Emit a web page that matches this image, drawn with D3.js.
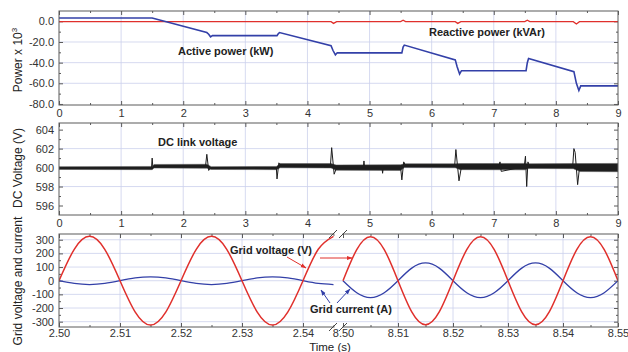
<!DOCTYPE html>
<html>
<head>
<meta charset="utf-8">
<script src="https://cdn.jsdelivr.net/npm/d3@7"></script>
<style>
  body { margin: 0; background: #fff; }
  text { font-family: "Liberation Sans", Arial, sans-serif; }
</style>
</head>
<body>
<div id="chart"></div>
<script>
// ---- panel 1 : power (x10^3) ----
const activeT = [0, 1.50, 2.38, 2.41, 2.44, 2.47, 3.51, 3.53, 3.55, 4.38, 4.41, 4.45, 4.48, 5.52, 5.54, 5.56, 6.38, 6.41, 6.45, 6.48, 7.52, 7.54, 7.56, 8.29, 8.33, 8.37, 8.40, 9.0];
const activeP = [3.2, 3.2, -10.9, -12.5, -15, -13.8, -13.8, -12, -10.9, -23.5, -28, -32.5, -30.5, -30.5, -25, -23, -37.3, -44, -51, -47.8, -47.8, -40, -36, -48.7, -60, -67, -62.5, -62.5];
const reactT = [0, 4.38, 4.42, 4.47, 5.50, 5.54, 5.58, 6.38, 6.42, 6.47, 7.50, 7.54, 7.58, 8.28, 8.33, 8.38, 9.0];
const reactQ = [-0.3, -0.3, -2.0, -0.3, -0.3, 1.0, -0.3, -0.3, -2.0, -0.3, -0.3, 1.0, -0.3, -0.3, -2.5, -0.3, -0.3];
const powerTicks = [0, -20, -40, -60, -80];

// ---- panel 2 : DC link voltage ----
const dcBandT  = [0, 1.50, 1.53, 2.38, 2.45, 3.50, 3.56, 4.38, 4.46, 5.50, 5.56, 6.38, 6.46, 7.50, 7.56, 8.28, 8.39, 9.0];
const dcBandHi = [600.10, 600.12, 600.33, 600.35, 600.10, 600.12, 600.42, 600.42, 600.28, 600.30, 600.40, 600.40, 600.42, 600.44, 600.40, 600.42, 600.42, 600.44];
const dcBandLo = [599.80, 599.78, 599.95, 599.93, 599.80, 599.78, 599.98, 599.96, 599.72, 599.70, 600.00, 599.98, 599.78, 599.76, 599.90, 599.88, 599.58, 599.56];
const dcSpikeT = [1.49, 1.50, 1.51, 2.36, 2.38, 2.41, 2.44, 3.50, 3.51, 3.54, 3.57, 4.37, 4.39, 4.43, 4.47, 4.90, 4.91, 4.92, 5.20, 5.21, 5.22, 5.50, 5.52, 5.55, 5.58, 6.37, 6.39, 6.44, 6.48, 7.08, 7.10, 7.12, 7.49, 7.51, 7.53, 7.55, 7.58, 8.27, 8.29, 8.31, 8.35, 8.38];
const dcSpikeV = [600.0, 601.0, 600.1, 600.2, 601.4, 599.7, 600.0, 599.9, 598.8, 600.5, 600.2, 600.2, 602.1, 599.3, 600.0, 600.0, 600.7, 600.0, 600.0, 599.4, 600.0, 600.0, 598.7, 600.6, 600.2, 600.2, 601.9, 598.6, 600.1, 600.1, 600.6, 599.6, 600.1, 601.2, 598.0, 600.6, 600.1, 600.1, 602.0, 601.6, 598.2, 600.0];
const dcTicks = [604, 602, 600, 598, 596];

// ---- panel 3 : grid voltage and current (broken time axis) ----
const gridT1 = [2.5000, 2.5025, 2.5050, 2.5075, 2.5100, 2.5125, 2.5150, 2.5175, 2.5200, 2.5225, 2.5250, 2.5275, 2.5300, 2.5325, 2.5350, 2.5375, 2.5400, 2.5425, 2.5450];
const gridV1 = [0, 230, 325, 230, 0, -230, -325, -230, 0, 230, 325, 230, 0, -230, -325, -230, 0, 230, 325];
const gridI1 = [0, -20, -28, -20, 0, 20, 28, 20, 0, -20, -28, -20, 0, 20, 28, 20, 0, -20, -28];
const gridT2 = [8.5000, 8.5025, 8.5050, 8.5075, 8.5100, 8.5125, 8.5150, 8.5175, 8.5200, 8.5225, 8.5250, 8.5275, 8.5300, 8.5325, 8.5350, 8.5375, 8.5400, 8.5425, 8.5450, 8.5475, 8.5500];
const gridV2 = [0, 228, 322, 228, 0, -228, -322, -228, 0, 228, 322, 228, 0, -228, -322, -228, 0, 228, 322, 228, 0];
const gridI2 = [0, -88, -124, -88, 0, 92, 130, 92, 0, -88, -124, -88, 0, 92, 130, 92, 0, -88, -124, -88, 0];
const gridTicks = [300, 200, 100, 0, -100, -200, -300];
const timeTicks1 = [2.50, 2.51, 2.52, 2.53, 2.54];
const timeTicks2 = [8.50, 8.51, 8.52, 8.53, 8.54, 8.55];

const W = 628, H = 352;
const L = 59, R = 618;
const BLUE = "#3340a8", RED = "#e0302c", GRID = "#ccd0ec", FRAME = "#5a5a5a";

const svg = d3.select("#chart").append("svg")
  .attr("width", W).attr("height", H)
  .style("background", "#fff");

const panels = [
  { top: 11, bottom: 105 },
  { top: 123, bottom: 215 },
  { top: 234, bottom: 327 }
];

const x = d3.scaleLinear().domain([0, 9]).range([L, R]);
const y1 = d3.scaleLinear().domain([-81, 10]).range([panels[0].bottom, panels[0].top]);
const y2 = d3.scaleLinear().domain([595, 604.7]).range([panels[1].bottom, panels[1].top]);
const y3 = d3.scaleLinear().domain([-339, 342]).range([panels[2].bottom, panels[2].top]);
const xs1 = d3.scaleLinear().domain([2.50, 2.545]).range([L, 333.5]);
const xs2 = d3.scaleLinear().domain([8.50, 8.55]).range([343, R]);

function half(vals) {
  const out = [];
  for (let i = 0; i < vals.length - 1; i++) out.push((vals[i] + vals[i + 1]) / 2);
  return out;
}

function clip(id, x0, y0, x1, y1) {
  svg.append("clipPath").attr("id", id).append("rect")
    .attr("x", x0).attr("y", y0).attr("width", x1 - x0).attr("height", y1 - y0);
}

function tickAxis(axis, g, vals, size, labels, fmt, pad) {
  g.call(axis.tickValues(vals).tickSizeInner(-size).tickSizeOuter(0)
    .tickPadding(pad || 4).tickFormat(labels ? fmt : ""));
  g.select(".domain").remove();
  g.selectAll(".tick line").attr("stroke", FRAME);
  g.selectAll("text").attr("fill", "#333").style("font-size", "11px");
}

// grid + frame + ticks for the two time panels
function timePanel(p, ys, yMajor, yMinor, yFmt) {
  const gg = svg.append("g");
  gg.selectAll(".vg").data(d3.range(1, 9)).enter().append("line")
    .attr("x1", d => x(d)).attr("x2", d => x(d))
    .attr("y1", p.top).attr("y2", p.bottom)
    .attr("stroke", GRID).attr("stroke-width", 0.8);
  gg.selectAll(".hg").data(yMajor.slice(1, -1)).enter().append("line")
    .attr("x1", L).attr("x2", R).attr("y1", d => ys(d)).attr("y2", d => ys(d))
    .attr("stroke", GRID).attr("stroke-width", 0.8);

  const xMaj = d3.range(0, 10), xMin = half(xMaj);
  const b = svg.append("g").attr("transform", `translate(0,${p.bottom})`);
  tickAxis(d3.axisBottom(x), b, xMaj, 4, true, d3.format("d"), 4);
  const b2 = svg.append("g").attr("transform", `translate(0,${p.bottom})`);
  tickAxis(d3.axisBottom(x), b2, xMin, 2, false);
  const t = svg.append("g").attr("transform", `translate(0,${p.top})`);
  tickAxis(d3.axisTop(x), t, xMaj, 4, false);
  const t2 = svg.append("g").attr("transform", `translate(0,${p.top})`);
  tickAxis(d3.axisTop(x), t2, xMin, 2, false);

  const l = svg.append("g").attr("transform", `translate(${L},0)`);
  tickAxis(d3.axisLeft(ys), l, yMajor, 4, true, yFmt, 5);
  const l2 = svg.append("g").attr("transform", `translate(${L},0)`);
  tickAxis(d3.axisLeft(ys), l2, yMinor, 2, false);
  const r = svg.append("g").attr("transform", `translate(${R},0)`);
  tickAxis(d3.axisRight(ys), r, yMajor, 4, false);
  const r2 = svg.append("g").attr("transform", `translate(${R},0)`);
  tickAxis(d3.axisRight(ys), r2, yMinor, 2, false);
}

// ---------- panel 1 ----------
timePanel(panels[0], y1, powerTicks, half(powerTicks), d => d.toFixed(1));
clip("c1", L, panels[0].top, R, panels[0].bottom);
const line1 = d3.line().x(d => x(d[0])).y(d => y1(d[1]));
svg.append("path").attr("clip-path", "url(#c1)")
  .attr("d", line1(d3.zip(reactT, reactQ)))
  .attr("fill", "none").attr("stroke", RED).attr("stroke-width", 1.3);
svg.append("path").attr("clip-path", "url(#c1)")
  .attr("d", line1(d3.zip(activeT, activeP)))
  .attr("fill", "none").attr("stroke", BLUE).attr("stroke-width", 1.6);

// ---------- panel 2 ----------
timePanel(panels[1], y2, dcTicks, half(dcTicks), d => String(d));
clip("c2", L, panels[1].top, R, panels[1].bottom);
const band = d3.area().x(d => x(d[0])).y0(d => y2(d[2])).y1(d => y2(d[1]));
svg.append("path").attr("clip-path", "url(#c2)")
  .attr("d", band(d3.zip(dcBandT, dcBandHi, dcBandLo)))
  .attr("fill", "#1e1e1e").attr("stroke", "#555").attr("stroke-width", 0.5);
svg.append("path").attr("clip-path", "url(#c2)")
  .attr("d", d3.line().x(d => x(d[0])).y(d => y2(d[1]))(d3.zip(dcSpikeT, dcSpikeV)))
  .attr("fill", "none").attr("stroke", "#1e1e1e").attr("stroke-width", 1);

// ---------- panel 3 ----------
const p3 = panels[2];
const g3 = svg.append("g");
const vg3 = timeTicks1.slice(1).map(d => xs1(d)).concat(timeTicks2.slice(1, -1).map(d => xs2(d)));
g3.selectAll(".vg").data(vg3).enter().append("line")
  .attr("x1", d => d).attr("x2", d => d).attr("y1", p3.top).attr("y2", p3.bottom)
  .attr("stroke", GRID).attr("stroke-width", 0.8);
g3.selectAll(".hg").data(gridTicks).enter().append("line")
  .attr("x1", L).attr("x2", R).attr("y1", d => y3(d)).attr("y2", d => y3(d))
  .attr("stroke", GRID).attr("stroke-width", 0.8);

[[xs1, timeTicks1], [xs2, timeTicks2]].forEach(([sc, tv]) => {
  const mn = half(tv).concat(sc === xs1 ? [2.545] : []);
  const b = svg.append("g").attr("transform", `translate(0,${p3.bottom})`);
  tickAxis(d3.axisBottom(sc), b, tv, 4, true, d => d.toFixed(2), 2);
  const b2 = svg.append("g").attr("transform", `translate(0,${p3.bottom})`);
  tickAxis(d3.axisBottom(sc), b2, mn, 2, false);
  const t = svg.append("g").attr("transform", `translate(0,${p3.top})`);
  tickAxis(d3.axisTop(sc), t, tv, 4, false);
  const t2 = svg.append("g").attr("transform", `translate(0,${p3.top})`);
  tickAxis(d3.axisTop(sc), t2, mn, 2, false);
});
const gMin = half(gridTicks);
const l3 = svg.append("g").attr("transform", `translate(${L},0)`);
tickAxis(d3.axisLeft(y3), l3, gridTicks, 4, true, d => String(d), 5);
const l3b = svg.append("g").attr("transform", `translate(${L},0)`);
tickAxis(d3.axisLeft(y3), l3b, gMin, 2, false);
const r3 = svg.append("g").attr("transform", `translate(${R},0)`);
tickAxis(d3.axisRight(y3), r3, gridTicks, 4, false);
const r3b = svg.append("g").attr("transform", `translate(${R},0)`);
tickAxis(d3.axisRight(y3), r3b, gMin, 2, false);

clip("c3a", L, p3.top, 334, p3.bottom);
clip("c3b", 342, p3.top, R, p3.bottom);
const seg = (sc) => d3.line().curve(d3.curveNatural).x(d => sc(d[0])).y(d => y3(d[1]));
[["c3a", xs1, gridT1, gridV1, gridI1], ["c3b", xs2, gridT2, gridV2, gridI2]].forEach(([c, sc, t, v, i]) => {
  svg.append("path").attr("clip-path", `url(#${c})`)
    .attr("d", seg(sc)(d3.zip(t, i)))
    .attr("fill", "none").attr("stroke", BLUE).attr("stroke-width", 1.3);
  svg.append("path").attr("clip-path", `url(#${c})`)
    .attr("d", seg(sc)(d3.zip(t, v)))
    .attr("fill", "none").attr("stroke", RED).attr("stroke-width", 1.5);
});

// ---------- frames ----------
panels.forEach(p => {
  svg.append("rect").attr("x", L).attr("y", p.top)
    .attr("width", R - L).attr("height", p.bottom - p.top)
    .attr("fill", "none").attr("stroke", FRAME).attr("stroke-width", 1);
});

// axis break marks on panel 3
[p3.top, p3.bottom].forEach(yy => {
  svg.append("rect").attr("x", 334.5).attr("y", yy - 1.5).attr("width", 8).attr("height", 3).attr("fill", "#fff");
  [333, 343].forEach(xx => {
    svg.append("line").attr("x1", xx - 4).attr("y1", yy + 4).attr("x2", xx + 4).attr("y2", yy - 4)
      .attr("stroke", "#333").attr("stroke-width", 0.9);
  });
});

// ---------- axis titles ----------
function yTitle(txt, cy, sup) {
  const t = svg.append("text")
    .attr("transform", `translate(22,${cy}) rotate(-90)`)
    .attr("text-anchor", "middle").attr("fill", "#222").style("font-size", "12px")
    .text(txt);
  if (sup) t.append("tspan").attr("dy", -5).style("font-size", "8px").text(sup);
}
yTitle("Power x 10", 60, "3");
yTitle("DC Voltage (V)", 168, null);
yTitle("Grid voltage and current", 281, null);
svg.append("text").attr("x", 330).attr("y", 351).attr("text-anchor", "middle")
  .attr("fill", "#222").style("font-size", "11.5px").text("Time (s)");

// ---------- annotations ----------
function note(txt, xx, yy) {
  svg.append("text").attr("x", xx).attr("y", yy).attr("fill", "#222")
    .style("font-size", "11px").style("font-weight", "bold").text(txt);
}
note("Active power (kW)", 178, 55);
note("Reactive power (kVAr)", 429, 36);
note("DC link voltage", 158, 146);
note("Grid voltage (V)", 230, 254);
note("Grid current (A)", 310, 313);

const defs = svg.append("defs");
[["ar", RED], ["ab", BLUE]].forEach(([id, c]) => {
  defs.append("marker").attr("id", id).attr("viewBox", "0 0 10 10")
    .attr("refX", 9).attr("refY", 5).attr("markerWidth", 6).attr("markerHeight", 6)
    .attr("orient", "auto")
    .append("path").attr("d", "M0,1.5L10,5L0,8.5Z").attr("fill", c);
});
function arrow(x1, y1a, x2, y2a, id, c) {
  svg.append("line").attr("x1", x1).attr("y1", y1a).attr("x2", x2).attr("y2", y2a)
    .attr("stroke", c).attr("stroke-width", 1).attr("marker-end", `url(#${id})`);
}
arrow(287, 257, 306, 268, "ar", RED);
arrow(320, 258, 352, 258, "ar", RED);
arrow(330, 303, 321, 290, "ab", BLUE);
arrow(337, 303, 350, 289, "ab", BLUE);
</script>
</body>
</html>
